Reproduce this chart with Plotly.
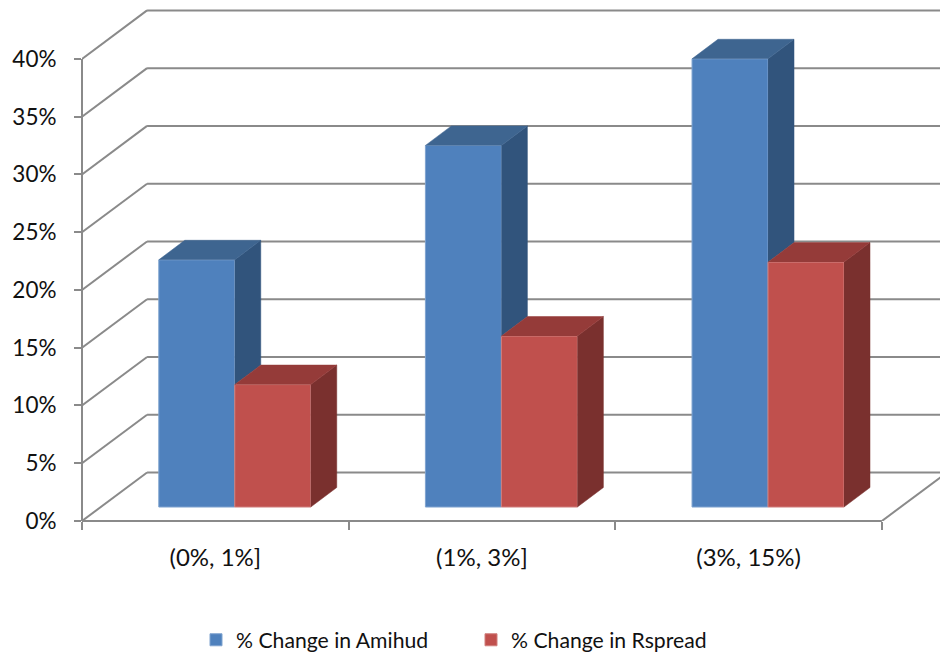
import plotly.graph_objects as go

categories = ['(0%, 1%]', '(1%, 3%]', '(3%, 15%)']
amihud = [21.4, 31.3, 38.8]
rspread = [10.6, 14.8, 21.2]
y_ticks = [0, 5, 10, 15, 20, 25, 30, 35, 40]
y_labels = ['0%', '5%', '10%', '15%', '20%', '25%', '30%', '35%', '40%']

# fake 3d: everything is offset in axis units
wall_dx, wall_dy = 0.244, 4.2      # front of floor -> back wall
bar_dx, bar_dy = 0.0975, 1.69      # depth of a column
floor = 1.21                       # columns stand a bit behind the front edge
bar_w = 0.285
blue_left = 0.288 - 0.5
x_max = 3.218
y_max = 45.1

grid = '#8a8a8a'
font = 'Lato'
txt = '#111111'

centers = [i + 0.5 for i in range(len(categories))]
fig = go.Figure()

# walls
shapes = []
for v in y_ticks:
    y = v + wall_dy
    shapes.append(dict(type='line', xref='x', yref='y', x0=0, y0=v, x1=wall_dx, y1=y))
    shapes.append(dict(type='line', xref='x', yref='y', x0=wall_dx, y0=y, x1=x_max, y1=y))
shapes.append(dict(type='line', xref='x', yref='y', x0=3, y0=0, x1=3 + wall_dx, y1=wall_dy))
shapes.append(dict(type='line', xref='x', yref='paper', x0=0, y0=0, x1=3, y1=0))
shapes.append(dict(type='line', xref='paper', yref='y', x0=0, y0=0, x1=0, y1=40))
for s in shapes:
    s['layer'] = 'below'
    s['line'] = dict(color=grid, width=2)


def face(xs, ys, color):
    fig.add_trace(go.Scatter(x=xs, y=ys, mode='lines', fill='toself', fillcolor=color,
                             line=dict(color=color, width=0.5), showlegend=False, hoverinfo='skip'))


# front faces
fig.add_trace(go.Bar(x=centers, y=amihud, base=floor, width=bar_w, offset=blue_left,
                     name='% Change in Amihud', marker=dict(color='#4F81BD', line=dict(color='#7FA3CF', width=1))))
fig.add_trace(go.Bar(x=centers, y=rspread, base=floor, width=bar_w, offset=blue_left + bar_w,
                     name='% Change in Rspread', marker=dict(color='#C0504D', line=dict(color='#D07F7C', width=1))))

# sides and tops
for c, a, r in zip(centers, amihud, rspread):
    xa = c + blue_left
    xr = xa + bar_w
    xe = xr + bar_w
    ta = floor + a
    tr = floor + r
    # blue side only shows above the red column
    face([xr, xr + bar_dx, xr + bar_dx, xr], [ta, ta + bar_dy, tr + bar_dy, tr], '#31547C')
    face([xa, xa + bar_dx, xr + bar_dx, xr], [ta, ta + bar_dy, ta + bar_dy, ta], '#3E6590')
    face([xe, xe + bar_dx, xe + bar_dx, xe], [tr, tr + bar_dy, floor + bar_dy, floor], '#7A302E')
    face([xr, xr + bar_dx, xe + bar_dx, xe], [tr, tr + bar_dy, tr + bar_dy, tr], '#953B39')

fig.update_layout(
    width=940, height=656,
    margin=dict(l=82, r=0, t=0, b=135),
    paper_bgcolor='white', plot_bgcolor='white',
    barmode='overlay',
    shapes=shapes,
    font=dict(family=font, size=22.5, color=txt),
    legend=dict(orientation='h', xref='container', x=196 / 940, xanchor='left',
                yref='container', y=16 / 656, yanchor='middle',
                entrywidth=230, entrywidthmode='pixels', font=dict(family=font, size=21.2, color=txt),
                traceorder='normal', bgcolor='rgba(0,0,0,0)'),
)
fig.update_xaxes(range=[0, x_max], showgrid=False, zeroline=False, showline=False,
                 tickmode='array', tickvals=centers, ticktext=categories, tickfont=dict(size=24),
                 ticks='outside', ticklen=0, ticklabelstandoff=15,
                 minor=dict(tickmode='array', tickvals=[0, 1, 2, 3], ticks='outside', ticklen=8,
                            tickwidth=2, tickcolor=grid, showgrid=False))
fig.update_yaxes(range=[0, y_max], showgrid=False, zeroline=False, showline=False,
                 tickmode='array', tickvals=y_ticks, ticktext=y_labels,
                 ticks='outside', ticklen=7, tickwidth=2, tickcolor=grid, ticklabelstandoff=13)

# page margin would push the 940 wide figure out of the window
fig.write_html("out.html", config=dict(displayModeBar=False),
               post_script="document.body.style.margin='0';document.body.style.overflow='hidden';")
